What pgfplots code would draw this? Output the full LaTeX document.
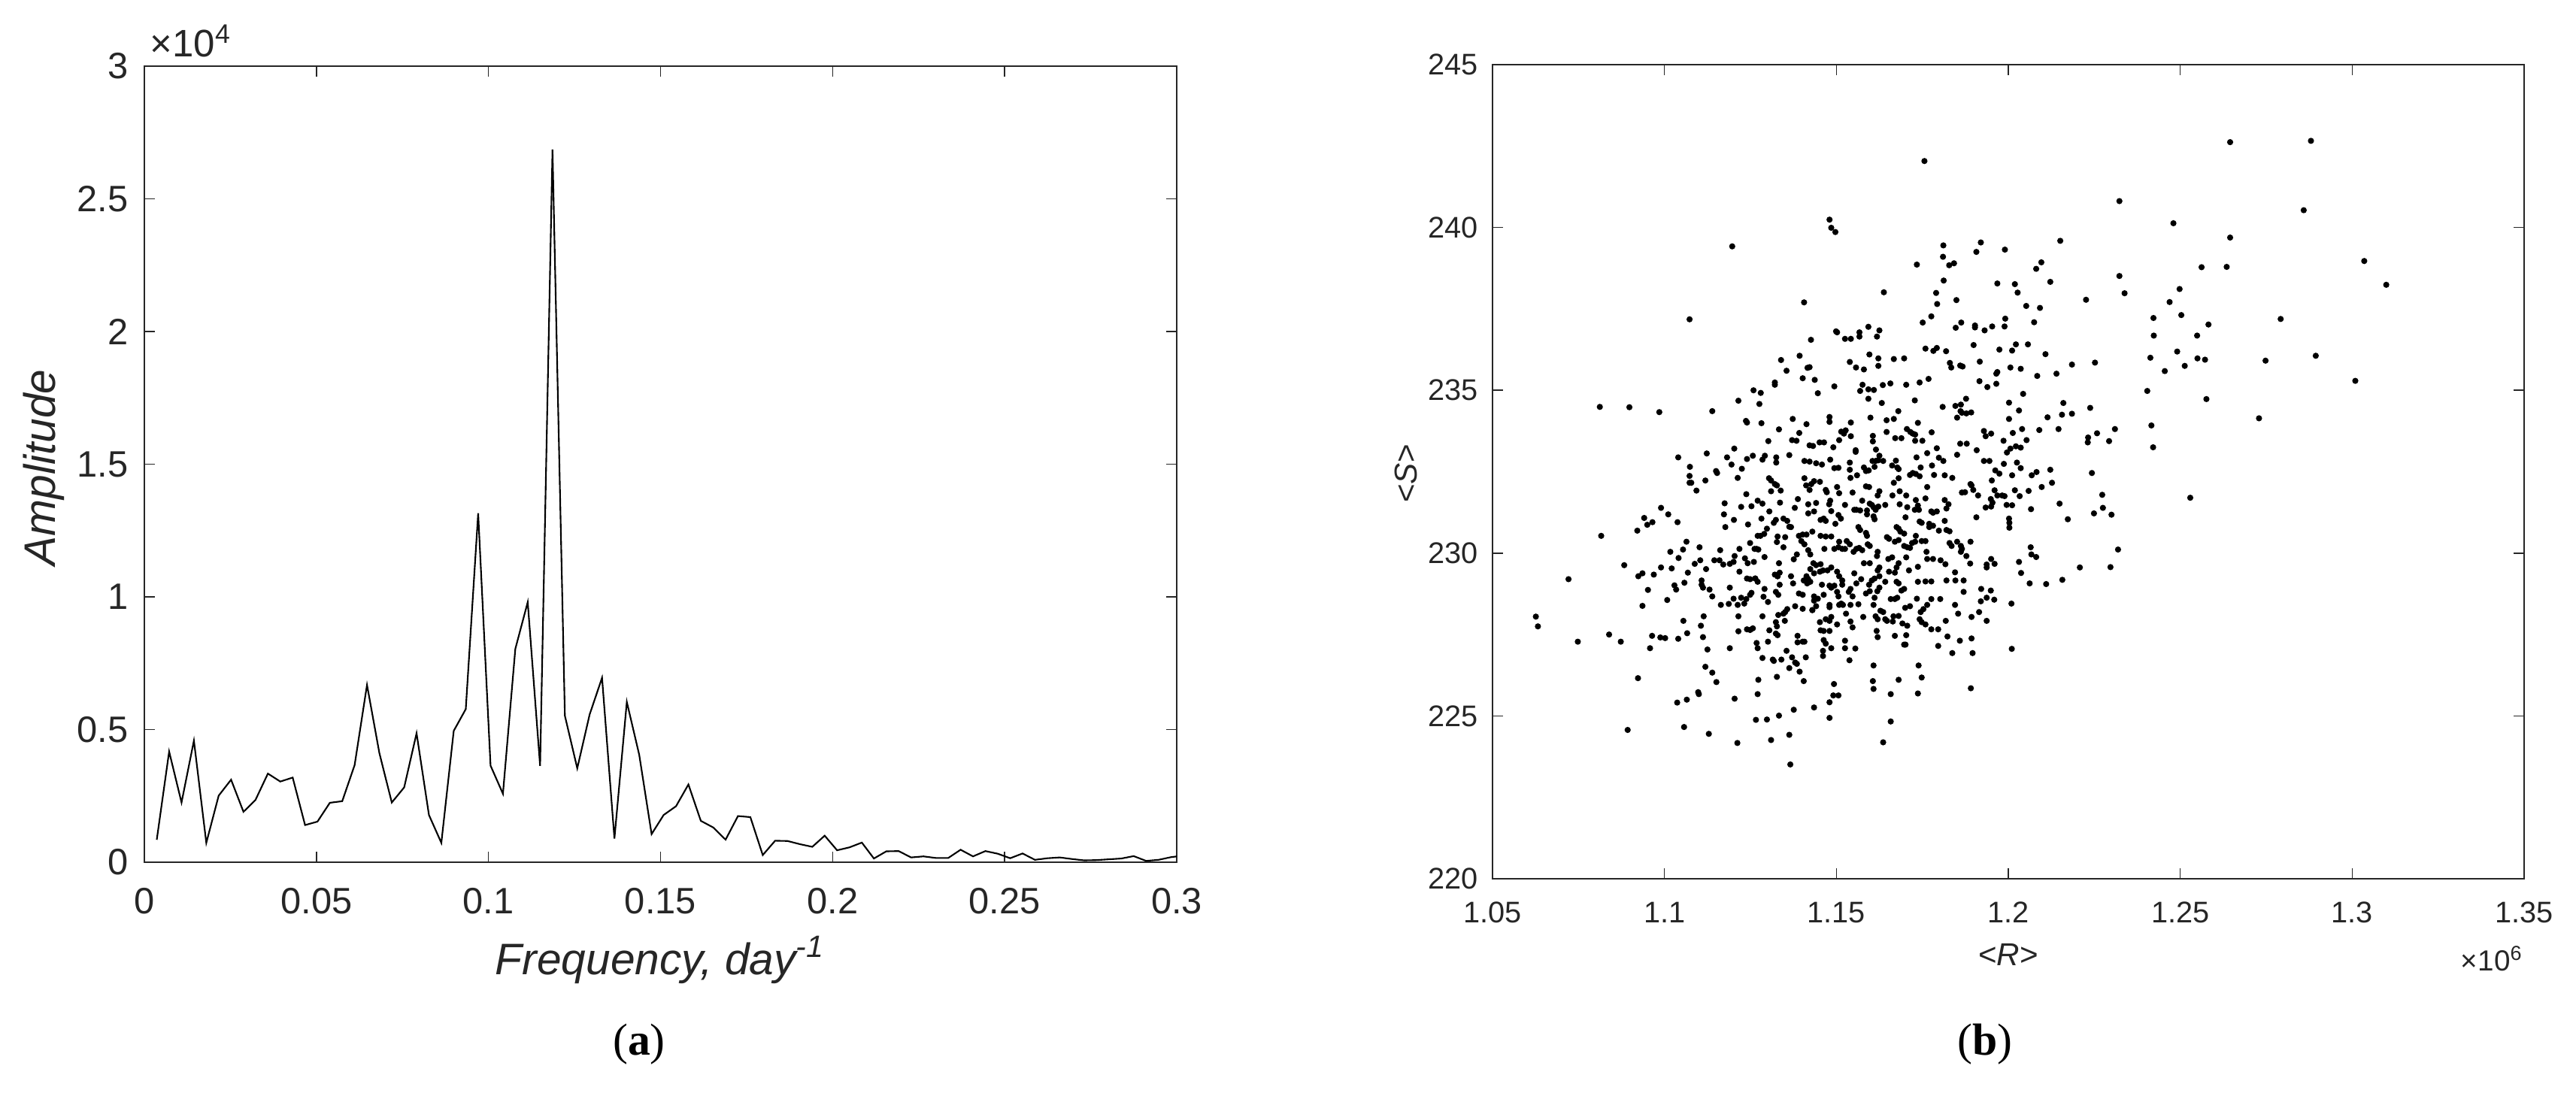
\documentclass[border=0pt]{standalone}
\usepackage{fontspec}
\setmainfont{Liberation Sans}
\newfontfamily\capfont{Liberation Serif}
\usepackage{pgfplots}
\pgfplotsset{compat=1.18}
\definecolor{axgray}{RGB}{38,38,38}

\pgfplotsset{
  matlab/.style={
    scale only axis,
    anchor=south west,
    axis line style={axgray, line width=0.65pt},
    tick style={axgray, line width=0.45pt},
    tick align=inside,
    major tick length=1.4mm,
    ticklabel style={text=axgray},
    scaled ticks=false,
  }
}

\begin{document}
\begin{tikzpicture}
\path[use as bounding box] (0,0) rectangle (342.6mm,145.7mm);

% (a) amplitude spectrum
\begin{axis}[matlab,
    at={(19.2mm,31.0mm)}, width=137.3mm, height=105.9mm,
    xmin=0, xmax=0.3, ymin=0, ymax=30000,
    xtick={0,0.05,0.1,0.15,0.2,0.25,0.3},
    xticklabels={0,0.05,0.1,0.15,0.2,0.25,0.3},
    ytick={0,5000,10000,15000,20000,25000,30000},
    yticklabels={0,0.5,1,1.5,2,2.5,3},
    ticklabel style={font=\fontsize{13.9}{16}\selectfont},
    xticklabel style={inner sep=0pt, anchor=north, yshift=-3.4mm},
    yticklabel style={inner sep=0pt, anchor=east, xshift=-2.1mm},
]
\addplot[black, line width=0.6pt] coordinates {
(0.0036,845) (0.0072,4170) (0.0108,2250) (0.0144,4580) (0.0180,730)
(0.0216,2510) (0.0252,3110) (0.0288,1900) (0.0323,2350) (0.0359,3340)
(0.0395,3040) (0.0431,3190) (0.0467,1400) (0.0503,1530) (0.0539,2240)
(0.0575,2300) (0.0611,3660) (0.0647,6680) (0.0683,4110) (0.0719,2250)
(0.0755,2820) (0.0791,4860) (0.0827,1780) (0.0863,730) (0.0899,4950)
(0.0934,5770) (0.0970,13150) (0.1006,3640) (0.1042,2580) (0.1078,8040)
(0.1114,9800) (0.1150,3630) (0.1186,26860) (0.1222,5520) (0.1258,3540)
(0.1294,5570) (0.1330,6950) (0.1366,890) (0.1402,6040) (0.1438,4050)
(0.1474,1060) (0.1509,1780) (0.1545,2110) (0.1581,2930) (0.1617,1560)
(0.1653,1310) (0.1689,850) (0.1725,1740) (0.1761,1700) (0.1797,270)
(0.1833,810) (0.1869,800) (0.1905,680) (0.1941,580) (0.1977,1000)
(0.2013,450) (0.2049,560) (0.2085,740) (0.2120,140) (0.2156,410)
(0.2192,420) (0.2228,180) (0.2264,220) (0.2300,160) (0.2336,160)
(0.2372,470) (0.2408,220) (0.2444,420) (0.2480,320) (0.2516,150)
(0.2552,330) (0.2588,90) (0.2624,150) (0.2660,180) (0.2696,120)
(0.2731,70) (0.2767,80) (0.2803,110) (0.2839,140) (0.2875,230)
(0.2911,50) (0.2947,90) (0.2983,190) (0.3019,250)
};
\end{axis}

% (b) scatter <S> vs <R>
\begin{axis}[matlab,
    at={(198.5mm,28.8mm)}, width=137.2mm, height=108.3mm,
    xmin=1.05, xmax=1.35, ymin=220, ymax=245,
    xtick={1.05,1.1,1.15,1.2,1.25,1.3,1.35},
    xticklabels={1.05,1.1,1.15,1.2,1.25,1.3,1.35},
    ytick={220,225,230,235,240,245},
    yticklabels={220,225,230,235,240,245},
    ticklabel style={font=\fontsize{11.3}{13}\selectfont},
    xticklabel style={inner sep=0pt, anchor=north, yshift=-3.0mm},
    yticklabel style={inner sep=0pt, anchor=east, xshift=-1.9mm},
]
\addplot[only marks, mark=*, mark size=0.95pt, black] coordinates {
(1.1756,242.04) (1.1480,240.24) (1.1485,239.99) (1.1497,239.86) (1.1197,239.42)
(1.1811,239.45) (1.1810,239.10) (1.1920,239.54) (1.1907,239.25) (1.1734,238.86)
(1.1828,238.84) (1.1842,238.90) (1.1812,238.37) (1.1638,238.01) (1.1790,237.99)
(1.1849,237.77) (1.1793,237.65) (1.1406,237.70) (1.1073,237.18) (1.1776,237.27)
(1.1751,237.08) (1.1499,236.81) (1.1502,236.78) (1.1567,236.78) (1.1567,236.65)
(1.1525,236.58) (1.1542,236.58) (1.1593,236.95) (1.1625,236.84) (1.1618,236.65)
(1.1847,236.92) (1.1863,237.08) (1.1903,236.99) (1.1903,236.93) (1.1931,236.84)
(1.1953,236.96) (1.1426,236.55) (1.1759,236.28) (1.1782,236.21) (1.1792,236.30)
(1.1819,236.20) (1.1899,236.39) (1.1393,236.06) (1.1596,236.10) (1.1622,235.98)
(1.1622,235.75) (1.1667,235.96) (1.1697,235.98) (1.1539,235.87) (1.1339,235.93)
(1.1355,235.60) (1.1422,235.71) (1.1416,235.69) (1.1557,235.70) (1.1580,235.64)
(1.1830,235.84) (1.1834,235.70) (1.1860,235.76) (1.1867,235.73) (1.1917,235.88)
(1.1402,235.37) (1.1437,235.32) (1.1768,235.35) (1.1916,235.28) (1.1939,235.10)
(1.1494,235.12) (1.1321,235.24) (1.1321,235.17) (1.1576,235.17) (1.1593,235.03)
(1.1609,235.01) (1.1569,234.98) (1.1635,235.16) (1.1657,235.21) (1.1703,235.17)
(1.1742,235.24) (1.1446,234.91) (1.1728,234.69) (1.1593,234.74) (1.1632,234.61)
(1.1259,235.00) (1.1280,234.92) (1.1215,234.68) (1.1276,234.58) (1.0812,234.49)
(1.0898,234.48) (1.0985,234.33) (1.1139,234.36) (1.1809,234.49) (1.1846,234.52)
(1.1862,234.56) (1.1877,234.74) (1.1851,234.16) (1.1861,234.36) (1.1865,234.31)
(1.1878,234.29) (1.1892,234.32) (1.1667,234.12) (1.1599,234.16) (1.1680,234.36)
(1.1646,234.08) (1.1480,234.18) (1.1480,234.03) (1.1542,234.01) (1.1737,234.00)
(1.1373,234.12) (1.1237,234.06) (1.1240,234.01) (1.1282,233.99) (1.1413,233.96)
(1.1333,233.80) (1.1929,233.75) (1.1934,233.59) (1.1950,233.67) (1.1705,233.81)
(1.1715,233.72) (1.1729,233.64) (1.1722,233.67) (1.1777,233.71) (1.1750,233.45)
(1.1729,233.45) (1.1514,233.73) (1.1527,233.77) (1.1522,233.67) (1.1542,233.59)
(1.1606,233.60) (1.1606,233.43) (1.1646,233.72) (1.1671,233.53) (1.1689,233.53)
(1.1392,233.69) (1.1371,233.47) (1.1384,233.45) (1.1422,233.31) (1.1432,233.29)
(1.1451,233.40) (1.1464,233.40) (1.1491,233.25) (1.1508,233.47) (1.1203,233.21)
(1.1302,233.44) (1.1792,233.22) (1.1860,233.36) (1.1879,233.36) (1.1556,233.16)
(1.1615,233.18) (1.1908,233.16)
(1.1040,232.94) (1.1123,233.06) (1.1182,232.94) (1.1240,232.89) (1.1257,232.99)
(1.1285,232.87) (1.1292,232.99) (1.1325,232.94) (1.1325,232.78) (1.1363,233.01)
(1.1407,232.83) (1.1422,232.81) (1.1441,232.76) (1.1458,232.72) (1.1482,232.87)
(1.1494,232.61) (1.1506,232.62) (1.1539,232.78) (1.1539,232.56) (1.1541,232.31)
(1.1556,233.11) (1.1560,232.39) (1.1580,232.63) (1.1586,232.52) (1.1594,232.54)
(1.1605,232.83) (1.1611,232.65) (1.1614,232.83) (1.1622,232.85) (1.1625,232.99)
(1.1636,232.83) (1.1662,232.69) (1.1673,232.84) (1.1681,232.58) (1.1677,232.63)
(1.1714,232.40) (1.1722,232.46) (1.1731,232.43) (1.1742,232.36) (1.1733,232.94)
(1.1745,232.63) (1.1764,233.07) (1.1778,232.69) (1.1784,232.40) (1.1798,232.93)
(1.1811,232.83) (1.1815,232.39) (1.1837,232.31) (1.1851,233.02) (1.1929,232.83)
(1.1945,232.83) (1.1952,232.23) (1.1890,232.12) (1.1074,232.65) (1.1073,232.37)
(1.1073,232.16) (1.1078,232.16) (1.1093,231.92) (1.1150,232.52) (1.1153,232.46)
(1.1119,232.23) (1.1195,232.72) (1.1225,232.59) (1.1213,232.31) (1.1238,231.81)
(1.1271,231.61) (1.1285,231.52) (1.1304,232.30) (1.1310,232.23) (1.1321,232.12)
(1.1327,232.08) (1.1310,231.90) (1.1338,231.92) (1.1336,231.55) (1.1305,231.28)
(1.1253,231.44) (1.1223,231.42) (1.1175,231.53) (1.1173,231.19) (1.1202,231.02)
(1.1177,230.80) (1.1243,230.88) (1.1282,231.06) (1.1298,230.75) (1.1318,230.93)
(1.1324,231.02) (1.1346,231.06) (1.1357,230.99) (1.1363,230.81) (1.1388,231.66)
(1.1379,231.39) (1.1407,232.30) (1.1412,232.08) (1.1422,231.94) (1.1427,232.12)
(1.1435,232.21) (1.1452,232.19) (1.1469,231.94) (1.1472,231.87) (1.1418,231.50)
(1.1441,231.54) (1.1435,231.28) (1.1418,231.22) (1.1454,231.02) (1.1463,231.06)
(1.1469,230.99) (1.1482,231.61) (1.1479,231.50) (1.1485,231.29) (1.1502,232.03)
(1.1508,231.84) (1.1506,231.17) (1.1513,231.06) (1.1525,231.48) (1.1497,230.90)
(1.1547,231.86) (1.1552,231.33) (1.1558,231.33) (1.1575,231.61) (1.1569,231.31)
(1.1586,232.05) (1.1595,232.03) (1.1597,231.52) (1.1603,231.48) (1.1608,231.41)
(1.1614,231.33) (1.1622,231.43) (1.1625,231.90) (1.1620,231.77) (1.1611,231.04)
(1.1608,231.13) (1.1642,231.48) (1.1589,231.31) (1.1589,231.19) (1.1663,231.77)
(1.1667,232.16) (1.1681,232.30) (1.1684,231.90) (1.1684,231.50) (1.1703,231.77)
(1.1706,231.41) (1.1701,231.10) (1.1731,231.63) (1.1737,231.46) (1.1728,231.33)
(1.1740,231.33) (1.1742,230.97) (1.1748,230.93) (1.1759,231.68) (1.1764,232.03)
(1.1776,231.28) (1.1781,231.24) (1.1792,231.28) (1.1770,230.90) (1.1781,230.84)
(1.1770,230.80) (1.1798,230.69) (1.1820,230.71) (1.1829,230.67) (1.1815,231.63)
(1.1826,231.50) (1.1820,231.37) (1.1815,230.99) (1.1865,231.86) (1.1874,231.87)
(1.1893,232.08) (1.1898,231.94) (1.1907,231.10) (1.1950,231.43) (1.1954,231.55)
(1.1949,231.66) (1.1934,231.40) (1.1912,231.77) (1.0990,231.39) (1.1011,231.19)
(1.1038,230.95) (1.0941,231.08) (1.0950,230.87) (1.0965,230.95) (1.0921,230.69)
(1.0816,230.53) (1.1017,230.04) (1.1041,229.85) (1.1054,230.11) (1.1064,230.35)
(1.1088,229.67) (1.1102,230.18) (1.1104,229.78) (1.1121,229.51) (1.1145,229.78)
(1.1160,229.78) (1.1162,230.09) (1.1171,229.65) (1.1190,229.67) (1.1201,229.73)
(1.1204,229.91) (1.1218,230.13) (1.1234,229.84) (1.1242,229.69) (1.1249,230.31)
(1.1262,230.13) (1.1271,230.53) (1.1279,230.53) (1.1290,230.59) (1.1273,230.11)
(1.1291,229.88) (1.1329,230.51) (1.1327,230.34) (1.1346,230.18) (1.1333,229.69)
(1.1351,230.49) (1.1368,230.80) (1.1376,229.81) (1.1385,229.96) (1.1391,230.53)
(1.1402,230.57) (1.1413,230.57) (1.1398,230.37) (1.1407,230.27) (1.1418,230.09)
(1.1424,229.96) (1.1430,230.66) (1.1454,230.53) (1.1469,230.51) (1.1485,230.51)
(1.1494,230.13) (1.1506,230.18) (1.1517,230.13) (1.1525,230.13) (1.1465,230.13)
(1.1508,230.35) (1.1530,230.37) (1.1539,230.27) (1.1550,230.04) (1.1558,230.13)
(1.1566,230.16) (1.1575,230.09) (1.1564,230.80) (1.1569,230.71) (1.1586,230.62)
(1.1589,230.53) (1.1591,230.27) (1.1597,230.22) (1.1580,229.69) (1.1620,230.04)
(1.1618,229.91) (1.1647,230.49) (1.1653,230.44) (1.1670,230.35) (1.1681,230.40)
(1.1675,230.80) (1.1681,230.75) (1.1686,230.66) (1.1697,230.60) (1.1697,230.22)
(1.1706,230.18) (1.1714,230.16) (1.1720,230.31) (1.1729,230.35) (1.1731,230.53)
(1.1748,230.37) (1.1759,230.37) (1.1762,230.04) (1.1764,229.82) (1.1781,229.82)
(1.1803,229.78) (1.1817,229.66) (1.1776,229.13) (1.1759,229.13) (1.1737,229.58)
(1.1711,229.47) (1.1737,229.12) (1.1829,230.31) (1.1835,230.22) (1.1851,230.35)
(1.1862,230.22) (1.1865,230.13) (1.1862,230.04) (1.1878,229.91) (1.1889,229.68)
(1.1870,229.16) (1.1846,229.16) (1.1845,229.41) (1.1820,229.16) (1.1802,228.59)
(1.1870,228.81) (1.1890,230.35) (1.1937,229.56) (1.1937,229.65) (1.1950,229.82)
(1.1921,228.90) (1.1949,228.85) (1.1937,228.63) (1.1920,228.52) (1.1915,228.19)
(1.1893,228.04) (1.1937,227.92) (1.1859,227.31) (1.1893,227.38) (1.1896,226.93)
(1.1837,226.93) (1.1823,227.44) (1.1796,227.15) (1.1818,227.92) (1.1854,228.14)
(1.1845,228.41) (1.1776,228.59) (1.1764,228.41) (1.1753,228.28) (1.1745,228.19)
(1.1742,227.97) (1.1748,227.88) (1.1759,227.81) (1.1734,228.60) (1.1714,228.37)
(1.1697,228.90) (1.1689,228.85) (1.1681,229.07) (1.1675,229.12) (1.1670,229.40)
(1.1675,229.56) (1.1670,228.59) (1.1677,228.63) (1.1658,228.59) (1.1692,227.84)
(1.1706,227.77) (1.1666,228.06) (1.1697,227.19) (1.1670,227.46) (1.1614,228.06)
(1.1620,227.97) (1.1608,228.41) (1.1611,228.63) (1.1617,227.61) (1.1620,227.42)
(1.1625,229.29) (1.1611,229.22) (1.1603,229.16) (1.1595,229.03) (1.1597,229.69)
(1.1578,228.04) (1.1564,228.43) (1.1541,228.90) (1.1536,228.81) (1.1547,228.67)
(1.1541,227.90) (1.1547,227.72) (1.1528,228.14) (1.1541,228.41) (1.1517,229.16)
(1.1517,229.03) (1.1508,229.29) (1.1502,229.43) (1.1485,229.56) (1.1474,229.47)
(1.1494,229.00) (1.1485,228.94) (1.1480,229.00) (1.1502,228.81) (1.1506,228.67)
(1.1514,228.45) (1.1508,228.41) (1.1519,228.41) (1.1480,228.41) (1.1480,228.34)
(1.1502,227.81) (1.1485,228.04) (1.1469,227.97) (1.1480,227.92) (1.1452,227.88)
(1.1454,227.63) (1.1463,227.61) (1.1480,227.61) (1.1463,227.33) (1.1469,227.22)
(1.1461,227.00) (1.1461,226.84) (1.1485,227.08) (1.1525,227.31) (1.1525,227.08)
(1.1555,227.07) (1.1538,226.71) (1.1441,228.37) (1.1435,228.67) (1.1446,228.60)
(1.1463,228.72) (1.1458,229.03) (1.1452,229.43) (1.1461,229.47) (1.1433,229.69)
(1.1441,229.63) (1.1454,229.66) (1.1435,229.38) (1.1424,229.51) (1.1413,229.29)
(1.1418,229.20) (1.1424,229.12) (1.1415,229.07) (1.1405,229.16) (1.1391,228.76)
(1.1402,228.29) (1.1402,228.72) (1.1430,228.25) (1.1435,228.54) (1.1380,228.37)
(1.1357,228.28) (1.1351,228.19) (1.1346,228.14) (1.1368,229.29) (1.1374,229.07)
(1.1335,229.40) (1.1329,229.29) (1.1321,229.34) (1.1335,229.03) (1.1324,228.81)
(1.1331,228.72) (1.1331,228.10) (1.1324,227.88) (1.1327,227.75) (1.1350,227.92)
(1.1291,228.90) (1.1288,228.66) (1.1301,228.50) (1.1324,227.53) (1.1329,227.48)
(1.1305,227.63) (1.1301,227.28) (1.1285,228.06) (1.1268,227.24) (1.1271,227.08)
(1.1240,227.66) (1.1249,227.64) (1.1257,227.69) (1.1215,228.06) (1.1215,227.60)
(1.1223,228.63) (1.1213,228.41) (1.1232,228.45) (1.1238,228.59) (1.1249,228.72)
(1.1253,228.78) (1.1240,229.22) (1.1249,229.20) (1.1264,229.22) (1.1271,229.12)
(1.1260,229.73) (1.1218,229.43) (1.1190,228.94) (1.1187,228.44) (1.1201,228.60)
(1.1164,228.41) (1.1139,228.67) (1.1131,228.88) (1.1108,229.16) (1.1108,229.03)
(1.1112,228.94) (1.1114,228.06) (1.1106,227.77) (1.1112,227.42) (1.1125,227.04)
(1.1058,229.09) (1.1029,229.01) (1.1034,228.88) (1.1008,228.56) (1.1068,229.40)
(1.1055,227.92) (1.1066,227.54) (1.1040,227.37) (1.0990,229.56) (1.1021,229.53)
(1.0969,229.34) (1.0936,229.38) (1.0924,229.29) (1.0952,228.87) (1.0936,228.38)
(1.0883,229.63) (1.0721,229.20) (1.0748,227.28) (1.0626,228.05) (1.0632,227.75)
(1.0839,227.50) (1.0873,227.28) (1.0964,227.46) (1.0988,227.41) (1.1002,227.39)
(1.0958,227.08) (1.0923,226.16) (1.0893,224.57) (1.1037,225.41) (1.1065,225.50)
(1.1057,224.66) (1.1129,224.45) (1.1098,225.73) (1.1100,225.67) (1.1119,226.51)
(1.1139,226.33) (1.1151,226.04) (1.1190,227.08) (1.1204,225.53) (1.1212,224.17)
(1.1271,225.67) (1.1273,226.11) (1.1266,224.88) (1.1298,224.89) (1.1310,224.26)
(1.1285,226.78) (1.1318,226.69) (1.1315,226.73) (1.1340,226.73) (1.1327,226.20)
(1.1333,225.01) (1.1355,227.00) (1.1371,226.80) (1.1363,226.47) (1.1380,226.64)
(1.1385,226.60) (1.1393,226.36) (1.1387,227.46) (1.1387,227.26) (1.1402,227.28)
(1.1407,227.28) (1.1376,225.19) (1.1363,224.42) (1.1366,223.51) (1.1405,226.07)
(1.1411,226.80) (1.1435,225.26) (1.1480,224.94) (1.1480,225.42) (1.1493,225.98)
(1.1491,225.63) (1.1506,225.63) (1.1608,226.55) (1.1606,226.07) (1.1608,225.83)
(1.1658,225.67) (1.1658,224.83) (1.1636,224.19) (1.1681,226.11) (1.1739,226.55)
(1.1748,226.18) (1.1737,225.69) (1.1701,227.19) (1.1703,227.48) (1.1891,225.85)
(1.1776,227.66) (1.1664,227.90) (1.1552,229.38) (1.1558,229.07) (1.1572,229.20)
(1.1620,229.47) (1.1625,229.56) (1.1651,229.82) (1.1662,229.87) (1.1653,229.43)
(1.1681,229.69) (1.1703,229.87) (1.1642,229.12) (1.1586,228.76) (1.1597,228.83)
(1.1619,228.83) (1.1625,228.94) (1.1628,228.23) (1.1636,228.19) (1.1642,227.97)
(1.1647,227.92) (1.1681,228.07) (1.1700,228.32) (1.1796,227.66) (1.1430,228.25)
(1.1329,229.29) (1.1264,229.22) (1.1268,230.13)
(1.2645,242.62) (1.2880,242.66) (1.2323,240.81) (1.2859,240.53) (1.2480,240.13)
(1.2645,239.69) (1.2151,239.59) (1.1990,239.32) (1.2096,238.93) (1.2081,238.73)
(1.2562,238.78) (1.2635,238.79) (1.3035,238.97) (1.3099,238.24) (1.2323,238.51)
(1.2338,237.98) (1.2498,238.11) (1.1968,238.28) (1.2019,238.26) (1.2027,238.00)
(1.2122,238.33) (1.2226,237.78) (1.2469,237.71) (1.2052,237.59) (1.2092,237.53)
(1.2422,237.22) (1.2423,236.68) (1.2503,237.31) (1.2792,237.19) (1.2582,237.02)
(1.1991,237.20) (1.1989,236.96) (1.2075,237.09) (1.2549,236.68) (1.2022,236.41)
(1.2057,236.41) (1.1974,236.25) (1.2011,236.22) (1.2108,236.11) (1.2491,236.19)
(1.2413,236.00) (1.2550,235.98) (1.2572,235.94) (1.2894,236.06) (1.2748,235.91)
(1.2185,235.79) (1.2252,235.85) (1.2006,235.70) (1.2036,235.66) (1.1968,235.56)
(1.1965,235.51) (1.2455,235.59) (1.2513,235.75) (1.2084,235.44) (1.2140,235.51)
(1.1965,235.20) (1.3009,235.29) (1.2404,234.98) (1.2576,234.73) (1.2043,234.89)
(1.2002,234.62) (1.2160,234.61) (1.2238,234.46) (1.2031,234.38) (1.2002,234.12)
(1.2114,234.17) (1.2156,234.25) (1.2185,234.28) (1.2729,234.14) (1.2013,233.69)
(1.2040,233.81) (1.2090,233.78) (1.2146,233.81) (1.2310,233.81) (1.2416,233.92)
(1.1986,233.45) (1.2053,233.47) (1.2232,233.55) (1.2231,233.40) (1.2258,233.68)
(1.2293,233.44) (1.2421,233.25) (1.2006,233.21) (1.2022,233.28) (1.2036,233.24)
(1.2529,231.70) (1.1996,233.09) (1.1987,232.74) (1.2025,232.78) (1.2036,232.61)
(1.1962,232.54) (1.1974,232.44) (1.2011,232.39) (1.2068,232.39) (1.2082,232.49)
(1.2122,232.56) (1.2127,232.16) (1.2097,232.03) (1.2243,232.46) (1.1960,231.93)
(1.2019,231.93) (1.2059,231.91) (1.1968,231.77) (1.1982,231.77) (1.1989,231.75)
(1.2033,231.75) (1.1995,231.48) (1.2011,231.47) (1.2066,231.35) (1.2149,231.52)
(1.2273,231.79) (1.2249,231.22) (1.2275,231.39) (1.2300,231.18) (1.2173,231.04)
(1.2002,231.06) (1.2003,230.93) (1.2003,230.78) (1.2065,230.18) (1.2067,229.96)
(1.2081,229.88) (1.2319,230.11) (1.1960,229.67) (1.2031,229.73) (1.2037,229.39)
(1.2208,229.56) (1.2297,229.57) (1.2062,229.07) (1.2110,229.05) (1.2157,229.18)
(1.1959,228.57) (1.2009,228.45) (1.2010,227.06)
};
\end{axis}

% labels and captions
\node[font=\fontsize{14.5}{17}\selectfont, text=axgray, anchor=base west, inner sep=0pt]
  at (19.9mm,138.1mm) {×10\textsuperscript{4}};
\node[font=\fontsize{16.7}{19}\selectfont\itshape, text=axgray, rotate=90]
  at (5.8mm,83.5mm) {Amplitude};
\node[font=\fontsize{16.7}{19}\selectfont\itshape, text=axgray, anchor=base]
  at (87.8mm,16.1mm) {Frequency, day\textsuperscript{-1}};
\node[font=\fontsize{12}{14}\selectfont, text=axgray, rotate=90]
  at (187.0mm,82.7mm) {<\textit{S}>};
\node[font=\fontsize{12}{14}\selectfont, text=axgray, anchor=base]
  at (267.1mm,17.3mm) {<\textit{R}>};
\node[font=\fontsize{11}{13}\selectfont, text=axgray, anchor=base east, inner sep=0pt]
  at (335.6mm,16.6mm) {×10\textsuperscript{6}};
\node[font=\fontsize{17}{20}\selectfont\capfont] at (85.0mm,6.8mm) {(\textbf{a})};
\node[font=\fontsize{17}{20}\selectfont\capfont] at (264.0mm,6.8mm) {(\textbf{b})};
\end{tikzpicture}
\end{document}
